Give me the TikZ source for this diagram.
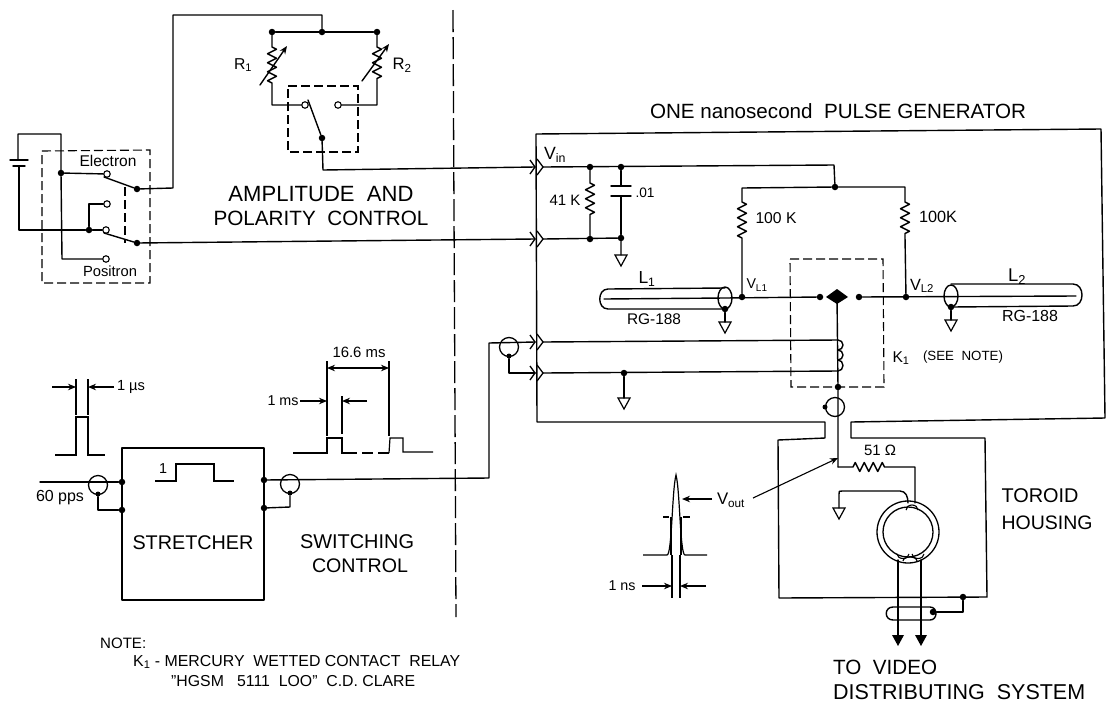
\documentclass[tikz,border=0pt]{standalone}
\usepackage{fontspec}
\setmainfont{Liberation Sans}
\usetikzlibrary{arrows.meta,decorations.pathmorphing}
\newcommand\lab[2]{\resizebox{#1pt}{!}{#2}}
\tikzset{
  wire/.style={line width=1.4pt,line cap=round,line join=round},
  thin wire/.style={line width=1.1pt},
  dashbox/.style={line width=1.1pt,dash pattern=on 9pt off 4pt},
  dot/.style={circle,fill=black,inner sep=0pt,minimum size=6.5pt},
  smalldot/.style={circle,fill=black,inner sep=0pt,minimum size=5pt},
  contact/.style={circle,draw,fill=white,line width=1.1pt,inner sep=0pt,minimum size=6.5pt},
  ring/.style={circle,draw,line width=1.3pt,inner sep=0pt,minimum size=19pt},
  lbl/.style={inner sep=0pt,font=\fontsize{16}{16}\selectfont},
  res/.style={decorate,decoration={zigzag,segment length=9pt,amplitude=4.5pt}},
  tip/.style={-{Stealth[length=8pt,width=6.5pt]}},
  chev/.pic={\draw[line width=1.3pt] (-5,-7)--(0,0)--(-5,7) (2,-8)--(8,0)--(2,8);},
  gnd/.pic={\draw[line width=1.2pt] (-6,0)--(6,0)--(0,11)--cycle;},
}
\begin{document}
\begin{tikzpicture}[x=1pt,y=-1pt]
\useasboundingbox (0,0) rectangle (1108,702);
% ---------- junctions
\foreach \n/\x/\y in {bt/322/32,r1l/272/32,r2r/377/32,
  sw3/322/138,amp/61/173,neg/89/230,arm1/137/189,arm2/137/243,
  pv/590/167,pc/621/167,qv/590/239,qc/621/238,join/835/187,
  vl1/742/297,vl2/906/297,cl/820/297,cr/859/297,rel/838/387,cg/624/373,
  in2/122/482,in3/122/510,ot1/264/480,ot2/264/508,gd/963/597,cs/933/612,
  d1/725/309,d2/951/307}
  {\node[dot] (\n) at (\x,\y) {};}
\foreach \n/\x/\y in {c1/107/174,c2/107/204,c3/106/230,c4/106/259,rc1/305/105,rc2/338/105}
  {\node[contact] (\n) at (\x,\y) {};}
\foreach \n/\x/\y in {ra/98/485,rb/290/484,rc/509/347,rd/835/407}
  {\node[ring] (\n) at (\x,\y) {};}
\foreach \n/\x/\y in {ra/98/494,rb/290/493,rc/509/356,rd/825/407}
  {\node[smalldot] (\n x) at (\x,\y) {};}
\foreach \n/\x/\y in {pa/535/167,pb/535/239,pd/535/342,pe/535/373}
  {\coordinate (\n) at (\x,\y); \pic at (\n) {chev};}
\coordinate (par) at (543,167);
\coordinate (pbr) at (543,239);
\coordinate (pdr) at (543,342);
\coordinate (per) at (543,373);
% ---------- dashed separator
\draw[line width=1.3pt,dash pattern=on 22pt off 5pt] (453,10) -- (456,617);
% ---------- left switch
\draw[dashbox] (42,151) -- (150,150) -- (150,283) -- (42,283) -- cycle;
\draw[dashbox] (125,187) -- (125,243);
\draw[wire] (18,160) -- (18,134) -- (61,134) -- (amp) -- (62,259) -- (c4);
\draw[wire] (amp) -- (c1);
\draw[wire] (10,160) -- (28,160);
\draw[wire] (13,166) -- (25,166);
\draw[wire] (19,166) -- (19,230) -- (neg) -- (c3);
\draw[wire] (neg) -- (89,204) -- (c2);
\draw[wire] (104,177) -- (arm1);
\draw[wire] (104,233) -- (arm2);
\draw[wire] (arm1) -- (173,188) -- (173,15) -- (322,15) -- (bt);
\draw[wire] (arm2) -- (pb);
% ---------- R1 R2 and switch
\draw[wire] (r1l) -- (r2r);
\draw[wire] (r1l) -- (272,47) decorate[res]{-- (272,85)} -- (272,105) -- (rc1);
\draw[wire] (r2r) -- (377,47) decorate[res]{-- (377,82)} -- (377,105) -- (rc2);
\draw[wire,tip] (260,85) -- (287,46);
\draw[wire,tip] (362,81) -- (389,44);
\draw[dashbox] (288,86) -- (358,86) -- (358,152) -- (288,152) -- cycle;
\draw[wire] (sw3) -- (308,100);
\draw[wire] (sw3) -- (323,170) -- (pa);
% ---------- generator housing
\draw[wire] (851,438) -- (851,422) -- (1105,418) -- (1101,129) -- (536,134) -- (537,422) -- (825,422) -- (825,438) -- (778,440) -- (779,598) -- (987,597) -- (985,438) -- cycle;
% ---------- input network
\draw[wire] (par) -- (834,165) -- (join);
\draw[wire] (pbr) -- (qc) -- (621,255);
\pic at (621,255) {gnd};
\draw[wire] (pv) -- (590,183) decorate[res]{-- (590,218)} -- (qv);
\draw[wire] (pc) -- (621,186);
\draw[wire] (611,186) -- (631,186);
\draw[wire] (611,196) -- (631,196);
\draw[wire] (621,196) -- (qc);
\draw[wire] (join) -- (742,188) -- (742,202) decorate[res]{-- (742,238)} -- (vl1);
\draw[wire] (join) -- (905,187) -- (905,202) decorate[res]{-- (905,237)} -- (vl2);
% ---------- lines and relay
\draw[wire] (725,288) -- (608,289) .. controls (597,289) and (597,309) .. (608,309) -- (725,309);
\draw[wire] (604,299) -- (725,298) -- (cl);
\draw[wire] (725,298) ellipse (7 and 11);
\draw[wire] (d1) -- (725,322);
\pic at (725,322) {gnd};
\draw[wire] (951,284) -- (1073,284) .. controls (1085,284) and (1085,306) .. (1073,306) -- (951,307);
\draw[wire] (cr) -- (1076,296);
\draw[wire] (951,296) ellipse (7 and 11);
\draw[wire] (d2) -- (951,320);
\pic at (951,320) {gnd};
\draw[dashbox] (790,259) -- (883,259) -- (884,387) -- (791,387) -- cycle;
\fill (826,297) -- (837,289) -- (848,297) -- (837,304) -- cycle;
\draw[wire] (837,297) -- (rel) -- (838,467);
\draw[wire] (pdr) -- (838,340);
\draw[wire] (per) -- (838,371);
\draw[wire] (838,340) arc (-90:90:5 and 5) arc (-90:90:5 and 5) arc (-90:90:5 and 5.5);
\draw[wire] (cg) -- (624,398);
\pic at (624,398) {gnd};
% ---------- toroid
\draw[wire] (838,467) -- (853,467) decorate[res]{-- (888,467)} -- (915,467) -- (915,503);
\draw[wire] (839,508) -- (839,494) .. controls (839,491) and (839,491) .. (842,491) -- (900,491) .. controls (906,491) and (908,497) .. (908,503);
\pic at (839,508) {gnd};
\draw[line width=1.3pt] (908,532) circle (31);
\draw[line width=1.3pt] (908,532) circle (25);
\draw[line width=1.1pt] (906,510) arc (180:360:6 and 5);
\draw[line width=1.1pt] (897,554) arc (180:0:6 and 4.5);
\draw[line width=1.1pt] (912,554) arc (180:0:6 and 4.5);
\draw[line width=1.1pt] (903,561) arc (180:360:7 and 4);
\draw[wire] (898,560) -- (898,640);
\draw[wire] (921,560) -- (921,640);
\fill (892,635) -- (904,635) -- (898,646) -- cycle;
\fill (915,635) -- (927,635) -- (921,646) -- cycle;
\draw[wire] (893,607) -- (930,607) .. controls (938,607) and (938,620) .. (930,620) -- (893,620) .. controls (884,620) and (884,607) .. (893,607);
\draw[wire] (cs) -- (963,612) -- (gd);
% ---------- stretcher
\draw[wire] (122,448) rectangle (264,600);
\draw[wire] (40,482) -- (in2);
\draw[wire] (rax) -- (98,510) -- (in3);
\draw[wire] (ot1) -- (489,478) -- (489,343) -- (pd);
\draw[wire] (rbx) -- (290,507) -- (ot2);
\draw[wire] (rcx) -- (509,373) -- (pe);
\draw[line width=1.2pt] (155,481) -- (176,481) -- (176,464) -- (214,464) -- (214,481) -- (234,481);
% ---------- waveforms
\draw[line width=1.2pt] (55,455) -- (76,455) -- (76,417) -- (88,417) -- (88,455) -- (105,455);
\draw[thin wire] (76,379) -- (76,415);
\draw[thin wire] (88,379) -- (88,415);
\draw[thin wire,tip] (52,387) -- (76,387);
\draw[thin wire,tip] (114,387) -- (88,387);
\draw[line width=1.2pt] (293,453) -- (327,453) -- (327,438) -- (342,438) -- (342,453) -- (346,453);
\draw[line width=1.2pt,dash pattern=on 11pt off 5pt] (346,453) -- (389,453);
\draw[line width=1.2pt] (389,453) -- (390,438) -- (403,438) -- (403,452) -- (433,452);
\draw[thin wire] (327,361) -- (327,436);
\draw[thin wire] (389,361) -- (389,436);
\draw[thin wire] (342,396) -- (342,434);
\draw[thin wire,{Stealth[length=8pt,width=6.5pt]}-{Stealth[length=8pt,width=6.5pt]}] (327,368) -- (389,368);
\draw[thin wire,tip] (300,401) -- (327,401);
\draw[thin wire,tip] (367,401) -- (342,401);
\draw[line width=1.2pt] (643,555) -- (667,555) .. controls (672,555) and (672,490) .. (676,475) .. controls (680,490) and (680,555) .. (685,555) -- (707,555);
\draw[line width=1.1pt] (672,555) -- (672,598);
\draw[line width=1.1pt] (680,555) -- (680,598);
\draw[line width=2.6pt] (671,517) -- (671,555);
\draw[line width=2.6pt] (681,517) -- (681,555);
\draw[thin wire] (663,517) -- (669,517);
\draw[thin wire] (683,517) -- (690,517);
\draw[thin wire,tip] (712,499) -- (682,499);
\draw[thin wire,tip] (642,586) -- (672,586);
\draw[thin wire,tip] (706,586) -- (680,586);
\draw[thin wire,tip] (753,498) -- (838,458);
% ---------- texts
\node[lbl] (telec) at (108,161) {\lab{57}{Electron}};
\node[lbl] (tposi) at (110,271) {\lab{54}{Positron}};
\node[lbl] (tr1) at (243,65) {\lab{18}{R\textsubscript{1}}};
\node[lbl] (tr2) at (402,65) {\lab{19}{R\textsubscript{2}}};
\node[lbl] (tamp) at (321,194) {\lab{185}{AMPLITUDE\ \ AND}};
\node[lbl] (tpol) at (321,218) {\lab{215}{POLARITY\ \ CONTROL}};
\node[lbl] (ttitle) at (838,111) {\lab{376}{ONE nanosecond\ \ PULSE GENERATOR}};
\node[lbl] (tvin) at (555,155) {\lab{22}{V\textsubscript{in}}};
\node[lbl] (t41) at (565,200) {\lab{31}{41 K}};
\node[lbl] (t01) at (645,193) {\lab{19}{.01}};
\node[lbl] (t100a) at (776,218) {\lab{41}{100 K}};
\node[lbl] (t100b) at (938,217) {\lab{38}{100K}};
\node[lbl] (tl1) at (647,279) {\lab{17}{L\textsubscript{1}}};
\node[lbl] (tl2) at (1017,277) {\lab{18}{L\textsubscript{2}}};
\node[lbl] (trg1) at (654,319) {\lab{54}{RG-188}};
\node[lbl] (trg2) at (1030,316) {\lab{56}{RG-188}};
\node[lbl] (tvl1) at (757,285) {\lab{21}{V\textsubscript{L1}}};
\node[lbl] (tvl2) at (922,286) {\lab{24}{V\textsubscript{L2}}};
\node[lbl] (tk1) at (901,358) {\lab{17}{K\textsubscript{1}}};
\node[lbl] (tsee) at (963,357) {\lab{80}{(SEE\ \ NOTE)}};
\node[lbl] (t51) at (880,450) {\lab{32}{51 Ω}};
\node[lbl] (tvout) at (731,500) {\lab{28}{V\textsubscript{out}}};
\node[lbl] (tns) at (622,586) {\lab{27}{1 ns}};
\node[lbl] (ttor) at (1040,496) {\lab{77}{TOROID}};
\node[lbl] (thou) at (1047,523) {\lab{91}{HOUSING}};
\node[lbl,anchor=west] (tto) at (833,667) {\lab{104}{TO\ \ VIDEO}};
\node[lbl,anchor=west] (tdis) at (833,692) {\lab{252}{DISTRIBUTING\ \ SYSTEM}};
\node[lbl] (tpps) at (60,498) {\lab{48}{60 pps}};
\node[lbl] (tone) at (163,469) {\lab{8}{1}};
\node[lbl] (tstr) at (193,543) {\lab{121}{STRETCHER}};
\node[lbl] (tswi) at (357,542) {\lab{114}{SWITCHING}};
\node[lbl] (tcon) at (360,566) {\lab{96}{CONTROL}};
\node[lbl] (tus) at (131,387) {\lab{28}{1 µs}};
\node[lbl] (t166) at (359,352) {\lab{53}{16.6 ms}};
\node[lbl] (tms) at (283,401) {\lab{31}{1 ms}};
\node[lbl,anchor=west] (tnote) at (100,643) {\lab{46}{NOTE:}};
\node[lbl,anchor=west] (tk) at (133,662) {\lab{327}{K\textsubscript{1} - MERCURY\ \ WETTED CONTACT\ \ RELAY}};
\node[lbl,anchor=west] (thg) at (171,681) {\lab{244}{"HGSM\ \ \ 5111\ \ LOO"\ \ C.D. CLARE}};
\end{tikzpicture}
\end{document}
